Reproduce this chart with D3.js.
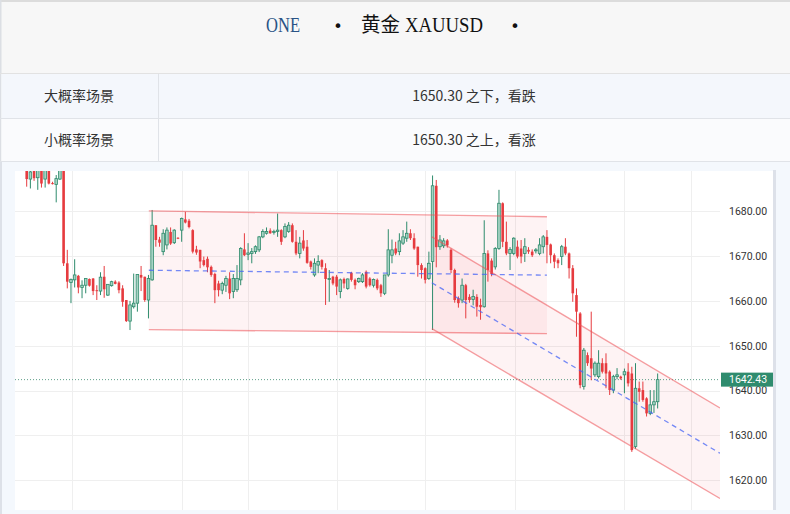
<!DOCTYPE html>
<html><head><meta charset="utf-8">
<script src="https://cdn.jsdelivr.net/npm/d3@7"></script>
<style>html,body{margin:0;padding:0;background:#fff;}svg{display:block;}</style>
</head><body>
<svg id="c" width="790" height="514"></svg>
<script>
// ---------- DATA ----------
const titleParts = ["ONE", "•", "黄金", "XAUUSD", "•"];
const scenarioNames = ["大概率场景", "小概率场景"];
const scenarioTexts = ["1650.30 之下，看跌", "1650.30 之上，看涨"];

const open = [1690.5,1687.2,1690.0,1687.5,1689.5,1687.2,1689.5,1686.3,1686.0,1687.2,
1689.5,1668.4,1664.1,1664.7,1665.6,1663.0,1663.5,1664.9,1665.0,1662.4,
1662.2,1665.4,1661.3,1663.4,1664.3,1664.1,1662.8,1660.2,1655.5,1658.7,
1659.5,1665.8,1665.4,1660.2,1664.7,1676.9,1673.7,1671.0,1672.5,1675.4,
1673.0,1674.1,1675.8,1678.2,1677.9,1675.8,1671.5,1671.4,1669.1,1669.4,
1667.6,1666.0,1663.9,1662.4,1663.5,1665.0,1662.1,1662.5,1664.7,1671.5,
1670.4,1670.6,1671.0,1671.4,1674.3,1675.1,1675.7,1675.3,1675.5,1675.8,
1674.3,1675.5,1676.9,1673.2,1670.6,1673.5,1672.1,1668.8,1665.8,1668.0,
1669.1,1667.3,1664.8,1665.4,1665.4,1662.1,1664.9,1662.8,1666.3,1664.7,
1664.3,1664.3,1666.5,1665.0,1663.5,1664.7,1663.5,1661.7,1665.8,1670.2,
1671.7,1671.0,1672.9,1674.0,1675.1,1674.0,1672.1,1668.0,1667.3,1665.0,
1668.8,1685.7,1672.1,1672.3,1673.5,1671.4,1666.9,1660.6,1660.2,1663.5,
1660.9,1660.3,1660.9,1659.1,1658.7,1670.6,1669.0,1667.6,1671.7,1681.8,
1673.2,1670.6,1670.6,1672.1,1671.7,1670.6,1671.4,1671.0,1671.2,1670.6,
1672.1,1674.3,1672.6,1670.2,1669.1,1669.9,1672.1,1670.6,1667.3,1661.3,
1657.2,1640.9,1647.9,1647.2,1643.5,1643.1,1646.1,1646.1,1644.2,1640.1,
1643.1,1643.1,1643.5,1644.2,1643.8,1627.5,1640.5,1640.1,1638.25,1634.9,
1636.8,1637.5];
const high = [1691.5,1690.0,1691.0,1690.5,1690.5,1690.2,1690.5,1686.6,1688.1,1691.0,
1691.0,1671.4,1665.0,1669.3,1665.8,1664.6,1665.0,1665.0,1665.1,1663.5,
1666.4,1667.8,1663.7,1664.5,1664.6,1664.4,1663.5,1660.2,1660.0,1666.1,
1665.9,1667.8,1665.4,1665.8,1680.3,1676.9,1674.3,1676.0,1676.4,1676.4,
1676.0,1674.2,1678.6,1679.9,1678.3,1676.0,1672.3,1671.4,1669.9,1669.9,
1667.9,1666.3,1664.5,1664.3,1665.6,1666.4,1666.0,1668.0,1672.0,1675.1,
1672.9,1671.8,1672.4,1674.5,1676.0,1676.4,1676.2,1675.9,1679.5,1676.0,
1677.3,1677.6,1677.3,1675.8,1674.3,1675.8,1673.6,1669.0,1669.5,1670.2,
1669.3,1668.4,1666.9,1665.6,1665.8,1665.0,1665.2,1665.0,1666.5,1665.0,
1665.2,1666.2,1666.8,1665.3,1665.0,1665.0,1663.8,1665.8,1676.0,1673.7,
1673.2,1675.1,1675.8,1677.7,1676.0,1675.1,1672.1,1668.4,1667.5,1671.0,
1688.0,1687.0,1674.7,1674.0,1673.8,1671.7,1667.2,1661.0,1665.0,1663.8,
1661.5,1662.5,1661.5,1660.5,1678.0,1671.3,1669.5,1672.0,1684.8,1682.0,
1677.7,1672.0,1674.2,1673.5,1673.6,1674.0,1672.0,1671.5,1671.8,1674.0,
1674.7,1675.8,1672.8,1670.6,1669.5,1672.5,1674.0,1670.8,1668.0,1662.8,
1657.5,1649.5,1648.5,1657.6,1646.5,1649.0,1647.2,1648.3,1644.5,1643.5,
1645.0,1643.3,1644.9,1646.1,1645.3,1646.1,1642.0,1642.0,1638.5,1640.1,
1640.1,1643.8];
const low = [1685.5,1685.1,1686.8,1684.8,1685.3,1685.3,1686.0,1686.0,1682.0,1687.0,
1667.8,1662.8,1659.5,1663.0,1661.7,1660.6,1661.7,1663.2,1661.3,1660.2,
1661.3,1660.7,1661.1,1663.2,1663.7,1661.7,1658.7,1655.3,1653.5,1658.3,
1657.6,1662.2,1659.8,1656.1,1664.5,1672.1,1672.1,1670.2,1671.5,1672.5,
1672.7,1673.8,1673.2,1677.3,1676.2,1670.6,1670.3,1667.3,1667.7,1666.4,
1665.4,1659.5,1661.0,1661.5,1662.0,1660.4,1660.6,1662.0,1663.5,1670.0,
1669.1,1668.4,1670.5,1670.9,1674.0,1674.8,1675.0,1674.8,1674.3,1672.5,
1674.0,1675.2,1673.0,1670.2,1669.5,1671.2,1668.3,1667.0,1665.4,1666.2,
1667.0,1659.1,1659.8,1663.5,1661.3,1660.6,1662.8,1662.5,1664.3,1662.6,
1664.0,1664.0,1662.8,1663.2,1663.0,1662.4,1660.9,1661.3,1665.4,1668.4,
1670.2,1670.2,1672.5,1673.2,1673.6,1671.4,1665.4,1665.0,1663.9,1664.7,
1653.5,1667.5,1671.4,1671.8,1671.9,1666.2,1659.6,1658.5,1659.5,1656.1,
1659.6,1659.0,1656.5,1655.8,1658.5,1664.3,1665.5,1667.0,1671.4,1672.0,
1670.2,1666.9,1670.2,1669.5,1668.4,1668.7,1670.5,1669.8,1670.6,1670.2,
1670.6,1668.4,1668.4,1667.3,1667.3,1668.0,1670.2,1665.0,1659.8,1652.0,
1640.5,1640.2,1645.5,1642.3,1643.0,1642.7,1643.8,1640.5,1639.0,1639.4,
1642.5,1642.4,1639.4,1640.9,1626.3,1627.0,1637.5,1637.5,1634.2,1634.5,
1635.0,1636.0];
const close = [1687.2,1688.8,1687.4,1689.5,1686.2,1689.5,1686.2,1686.1,1687.3,1689.5,
1668.4,1664.3,1664.8,1665.8,1663.0,1663.5,1665.0,1663.4,1662.2,1662.2,
1665.3,1662.6,1663.7,1664.3,1663.8,1662.4,1659.8,1655.5,1659.1,1659.5,
1665.9,1665.2,1660.2,1665.0,1676.9,1673.6,1673.0,1675.1,1675.8,1672.8,
1675.8,1673.9,1678.4,1677.5,1676.5,1671.0,1670.8,1668.8,1668.0,1667.5,
1665.8,1662.4,1662.4,1663.9,1665.0,1661.7,1665.0,1665.0,1671.7,1670.2,
1670.7,1671.0,1672.1,1674.3,1675.5,1675.5,1675.1,1675.5,1675.8,1673.2,
1676.6,1676.9,1673.2,1670.6,1672.9,1671.7,1668.5,1667.6,1668.4,1668.8,
1667.6,1664.9,1665.0,1663.9,1663.2,1664.7,1663.9,1664.9,1664.7,1663.5,
1665.0,1665.8,1663.2,1663.5,1664.8,1662.8,1661.7,1665.8,1671.4,1671.4,
1670.6,1673.4,1674.3,1675.1,1674.0,1671.7,1668.0,1666.9,1664.7,1668.4,
1685.7,1672.0,1673.6,1673.4,1672.4,1666.9,1660.2,1659.5,1663.5,1660.2,
1660.2,1661.0,1658.7,1658.6,1670.6,1666.9,1666.0,1671.7,1681.8,1673.2,
1670.6,1671.5,1674.0,1669.9,1669.9,1672.1,1671.0,1670.2,1671.4,1672.5,
1674.3,1672.5,1670.2,1668.75,1668.4,1672.1,1670.6,1667.3,1661.7,1657.6,
1641.2,1649.0,1646.1,1644.9,1646.1,1646.1,1644.2,1643.8,1640.1,1643.1,
1643.5,1642.7,1644.2,1641.6,1626.7,1640.5,1639.7,1637.9,1634.9,1636.8,
1637.5,1642.43];

const priceTicks = [1620, 1630, 1640, 1650, 1660, 1670, 1680];
const timeGridIdx = [12.2, 42.2, 60.0, 84.1, 108.0, 132.3, 162.0, 180.0];
const lastPrice = 1642.43;
// channel drawings: [startIdx, endIdx], top, bottom, middle (start,end)
const rangeChannel = {idx:[33.1, 141.0], top:[1680.1, 1678.8], bottom:[1653.6, 1652.7], mid:[1666.85, 1665.75]};
const downChannel  = {idx:[109.8, 187.9], top:[1674.3, 1636.1], bottom:[1653.8, 1615.9], mid:[1664.05, 1626.0]};

// ---------- DRAW ----------
const svg = d3.select("#c");
const W = 790, H = 514;
const plot = {l:15, r:720, t:171, b:510};

// header
svg.append("rect").attr("x",0).attr("y",0).attr("width",W).attr("height",74).attr("fill","#f7f7f7");
svg.append("rect").attr("x",0).attr("y",0).attr("width",W).attr("height",2).attr("fill","#dcdcdc");
svg.append("rect").attr("x",0).attr("y",0).attr("width",1.5).attr("height",H).attr("fill","#dcdfe4");
svg.append("line").attr("x1",0).attr("x2",W).attr("y1",73.5).attr("y2",73.5).attr("stroke","#e2e2e2");

const tp = [
  {t:titleParts[0], x:266, len:34, col:"#2a5385", f:"'Liberation Serif', serif", fs:22},
  {t:titleParts[1], x:338, len:null, col:"#111", f:"'DejaVu Sans', sans-serif", fs:16, mid:true},
  {t:titleParts[2], x:361, len:39, col:"#111", f:"'Noto Sans CJK SC', sans-serif", fs:20},
  {t:titleParts[3], x:405, len:78, col:"#111", f:"'Liberation Serif', serif", fs:22},
  {t:titleParts[4], x:515, len:null, col:"#111", f:"'DejaVu Sans', sans-serif", fs:16, mid:true}
];
tp.forEach(p=>{
  const t = svg.append("text").attr("x",p.x).attr("y",31.5).text(p.t)
    .attr("fill",p.col).attr("font-family",p.f).attr("font-size",p.fs)
    .attr("text-anchor", p.mid ? "middle" : "start");
  if (p.len) t.attr("textLength",p.len).attr("lengthAdjust","spacingAndGlyphs");
});

// table
const rowsY = [74, 118], rowH = [44, 43], rowBg = ["#f4f7fc", "#fafbfd"];
scenarioNames.forEach((n,i)=>{
  svg.append("rect").attr("x",1.5).attr("y",rowsY[i]).attr("width",W).attr("height",rowH[i]).attr("fill",rowBg[i]);
  svg.append("text").attr("x",79).attr("y",rowsY[i]+rowH[i]/2).attr("dy","0.36em")
    .attr("text-anchor","middle").attr("font-family","'Noto Sans CJK SC', sans-serif").attr("font-size",14)
    .attr("fill","#333").text(n);
  svg.append("text").attr("x",474).attr("y",rowsY[i]+rowH[i]/2).attr("dy","0.36em")
    .attr("text-anchor","middle").attr("font-family","'Noto Sans CJK SC', sans-serif").attr("font-size",14)
    .attr("fill","#333").text(scenarioTexts[i]);
});
[118, 161].forEach(yy=>svg.append("line").attr("x1",0).attr("x2",W).attr("y1",yy+0.5).attr("y2",yy+0.5).attr("stroke","#e0e3e8"));
svg.append("line").attr("x1",158.5).attr("x2",158.5).attr("y1",74).attr("y2",161).attr("stroke","#e0e3e8");

// chart background
svg.append("rect").attr("x",1.5).attr("y",162).attr("width",W).attr("height",H-162).attr("fill","#f4f8fd");
svg.append("rect").attr("x",0).attr("y",162).attr("width",2).attr("height",H-162).attr("fill","#dde1e8");
svg.append("rect").attr("x",plot.l).attr("y",plot.t).attr("width",773-plot.l).attr("height",plot.b-plot.t).attr("fill","#ffffff");
svg.append("rect").attr("x",773).attr("y",plot.t-1).attr("width",3).attr("height",plot.b-plot.t+1).attr("fill","#dde1e9");

const x = d3.scaleLinear().domain([-3.17, 187.9]).range([plot.l, plot.r]);
const y = d3.scaleLinear().domain([1613.33, 1689.0]).range([plot.b, plot.t]);

svg.append("clipPath").attr("id","pc").append("rect")
  .attr("x",plot.l).attr("y",plot.t).attr("width",plot.r-plot.l).attr("height",plot.b-plot.t);
const g = svg.append("g").attr("clip-path","url(#pc)");

// grid
g.selectAll(".hg").data(priceTicks).enter().append("line")
  .attr("x1",plot.l).attr("x2",plot.r).attr("y1",d=>Math.round(y(d))+0.5).attr("y2",d=>Math.round(y(d))+0.5)
  .attr("stroke","#efefef");
g.selectAll(".vg").data(timeGridIdx).enter().append("line")
  .attr("x1",d=>Math.round(x(d))+0.5).attr("x2",d=>Math.round(x(d))+0.5).attr("y1",plot.t).attr("y2",plot.b)
  .attr("stroke","#efefef");

// channel fills
function poly(ch){
  return [[x(ch.idx[0]),y(ch.top[0])],[x(ch.idx[1]),y(ch.top[1])],[x(ch.idx[1]),y(ch.bottom[1])],[x(ch.idx[0]),y(ch.bottom[0])]];
}
[rangeChannel, downChannel].forEach(ch=>{
  g.append("path").attr("d", d3.line()(poly(ch))+"Z").attr("fill","rgba(242,54,69,0.06)");
});

// current price line
g.append("line").attr("x1",plot.l).attr("x2",plot.r).attr("y1",y(lastPrice)).attr("y2",y(lastPrice))
  .attr("stroke","#5f9f8a").attr("stroke-dasharray","1,2").attr("stroke-width",1);

// candles
const idx = d3.range(close.length);
const up = i => close[i] >= open[i];
const green = "#2e8b6c", red = "#e63b3f";
const bw = 2.6;
g.selectAll(".wick").data(idx).enter().append("line")
  .attr("x1",i=>x(i)).attr("x2",i=>x(i)).attr("y1",i=>y(high[i])).attr("y2",i=>y(low[i]))
  .attr("stroke",i=>up(i)?green:red).attr("stroke-width",1);
g.selectAll(".body").data(idx).enter().append("rect")
  .attr("x",i=>x(i)-bw/2).attr("width",bw)
  .attr("y",i=>y(Math.max(open[i],close[i])))
  .attr("height",i=>Math.max(1, Math.abs(y(open[i])-y(close[i]))))
  .attr("fill",i=>up(i)?"#a7d3c4":red)
  .attr("stroke",i=>up(i)?green:"none").attr("stroke-width",0.8);

// channel lines
[rangeChannel, downChannel].forEach(ch=>{
  ["top","bottom"].forEach(k=>{
    g.append("line").attr("x1",x(ch.idx[0])).attr("x2",x(ch.idx[1]))
      .attr("y1",y(ch[k][0])).attr("y2",y(ch[k][1]))
      .attr("stroke","rgba(236,80,86,0.55)").attr("stroke-width",1.4);
  });
  g.append("line").attr("x1",x(ch.idx[0])).attr("x2",x(ch.idx[1]))
    .attr("y1",y(ch.mid[0])).attr("y2",y(ch.mid[1]))
    .attr("stroke","rgba(70,100,245,0.75)").attr("stroke-width",1.3).attr("stroke-dasharray","5,4");
});

// y axis
const ax = svg.append("g").attr("transform",`translate(${plot.r},0)`)
  .call(d3.axisRight(y).tickValues(priceTicks).tickFormat(d3.format(".2f")).tickSize(0).tickPadding(9));
ax.select(".domain").remove();
ax.selectAll("text").attr("font-family","Roboto, sans-serif").attr("font-size",10.5).attr("fill","#333");

// last price label
const ly = y(lastPrice);
svg.append("rect").attr("x",plot.r+1).attr("y",ly-7).attr("width",52).attr("height",14).attr("fill","#2f8c6e");
svg.append("text").attr("x",plot.r+9).attr("y",ly).attr("dy","0.36em").attr("fill","#fff")
  .attr("font-family","Roboto, sans-serif").attr("font-size",10.5).text(d3.format(".2f")(lastPrice));
</script>
</body></html>
